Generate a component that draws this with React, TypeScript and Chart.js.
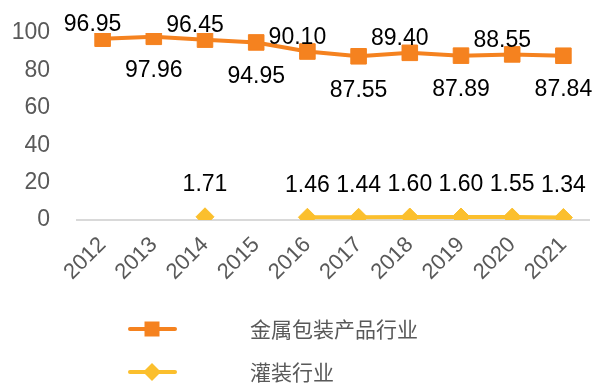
import React, { useEffect, useRef } from "react";
import { Chart, registerables } from "chart.js";

Chart.register(...registerables);

const years = ["2012", "2013", "2014", "2015", "2016", "2017", "2018", "2019", "2020", "2021"];
const metalPackaging = [96.95, 97.96, 96.45, 94.95, 90.1, 87.55, 89.4, 87.89, 88.55, 87.84];
const canning: (number | null)[] = [null, null, 1.71, null, 1.46, 1.44, 1.6, 1.6, 1.55, 1.34];
const seriesNames = ["金属包装产品行业", "灌装行业"];
const metalLabelSide = ["above", "below", "above", "below", "above", "below", "above", "below", "above", "below"];
const yMin = 0;
const yMax = 100;
const yStep = 20;

const ORANGE = "#F5821F";
const YELLOW = "#FBBF2D";
const TEXT_GRAY = "#595959";
const FONT = "'Liberation Sans', Arial, sans-serif";

const W = 601;
const H = 383;
const PAD_TOP = 33;
const PAD_BOTTOM = 92;
const PLOT_BOTTOM = 220;

const dataLabelsPlugin = {
  id: "dataLabels",
  afterDatasetsDraw(chart: any) {
    const ctx = chart.ctx;
    ctx.save();
    ctx.font = `23px ${FONT}`;
    ctx.fillStyle = "#000000";
    ctx.textAlign = "center";
    ctx.textBaseline = "middle";
    chart.data.datasets.forEach((ds: any, di: number) => {
      const meta = chart.getDatasetMeta(di);
      meta.data.forEach((pt: any, i: number) => {
        const v = ds.data[i];
        if (v === null || v === undefined) return;
        let x = pt.x;
        let y = pt.y;
        if (di === 0) {
          if (metalLabelSide[i] === "above") {
            x -= 10;
            y -= 14;
          } else {
            y += 34;
          }
        } else {
          y -= 32;
        }
        ctx.fillText(Number(v).toFixed(2), x, y);
      });
    });
    ctx.restore();
  },
};

const legendPlugin = {
  id: "customLegend",
  afterDraw(chart: any) {
    const ctx = chart.ctx;
    ctx.save();
    const items = [
      { color: ORANGE, shape: "rect", y: 329 },
      { color: YELLOW, shape: "diamond", y: 372 },
    ];
    items.forEach((it, i) => {
      ctx.strokeStyle = it.color;
      ctx.lineWidth = 4;
      ctx.lineCap = "round";
      ctx.beginPath();
      ctx.moveTo(130, it.y);
      ctx.lineTo(175, it.y);
      ctx.stroke();
      ctx.fillStyle = it.color;
      ctx.beginPath();
      if (it.shape === "rect") {
        ctx.rect(152 - 7.5, it.y - 7.5, 15, 15);
      } else {
        ctx.moveTo(152, it.y - 9);
        ctx.lineTo(161, it.y);
        ctx.lineTo(152, it.y + 9);
        ctx.lineTo(143, it.y);
        ctx.closePath();
      }
      ctx.fill();
      ctx.fillStyle = TEXT_GRAY;
      ctx.font = `21px 'Noto Sans CJK SC', sans-serif`;
      ctx.textAlign = "left";
      ctx.textBaseline = "middle";
      ctx.fillText(seriesNames[i], 250, it.y);
    });
    ctx.restore();
  },
};

export default function App() {
  const canvasRef = useRef<HTMLCanvasElement | null>(null);

  useEffect(() => {
    document.body.style.margin = "0";
    const canvas = canvasRef.current;
    if (!canvas) return;
    const chart = new Chart(canvas, {
      type: "line",
      data: {
        labels: years,
        datasets: [
          {
            label: seriesNames[0],
            data: metalPackaging,
            borderColor: ORANGE,
            backgroundColor: ORANGE,
            borderWidth: 4,
            pointStyle: "rect",
            pointRadius: 11,
            pointBorderWidth: 1,
            pointBorderColor: ORANGE,
            pointBackgroundColor: ORANGE,
            tension: 0,
          },
          {
            label: seriesNames[1],
            data: canning,
            borderColor: YELLOW,
            backgroundColor: YELLOW,
            borderWidth: 4,
            pointStyle: "rectRot",
            pointRadius: 9,
            pointBorderWidth: 1,
            pointBorderColor: YELLOW,
            pointBackgroundColor: YELLOW,
            spanGaps: false,
            tension: 0,
          },
        ],
      },
      options: {
        responsive: false,
        animation: false,
        layout: { padding: { top: PAD_TOP, right: 5, bottom: PAD_BOTTOM, left: 0 } },
        plugins: {
          legend: { display: false },
          tooltip: { enabled: false },
        },
        scales: {
          x: {
            type: "category",
            offset: true,
            grid: { display: false, drawTicks: false },
            border: { display: true, color: "#D9D9D9", width: 2 },
            ticks: {
              minRotation: 45,
              maxRotation: 45,
              color: TEXT_GRAY,
              font: { family: FONT, size: 22 },
              padding: 12,
            },
            afterFit: (s: any) => {
              s.height = H - PAD_BOTTOM - PLOT_BOTTOM;
              s.paddingLeft = 0;
              s.paddingRight = 0;
            },
          },
          y: {
            min: yMin,
            max: yMax,
            grid: { display: false, drawTicks: false },
            border: { display: false },
            ticks: {
              stepSize: yStep,
              color: TEXT_GRAY,
              font: { family: FONT, size: 23 },
              padding: 27,
            },
            afterFit: (s: any) => {
              s.width = 77;
              s.paddingTop = 0;
              s.paddingBottom = 0;
            },
          },
        },
      },
      plugins: [dataLabelsPlugin, legendPlugin],
    } as any);
    return () => chart.destroy();
  }, []);

  return (
    <div style={{ position: "absolute", left: 0, top: 0, width: W, height: H }}>
      <canvas ref={canvasRef} width={W} height={H} style={{ width: W, height: H }} />
    </div>
  );
}
